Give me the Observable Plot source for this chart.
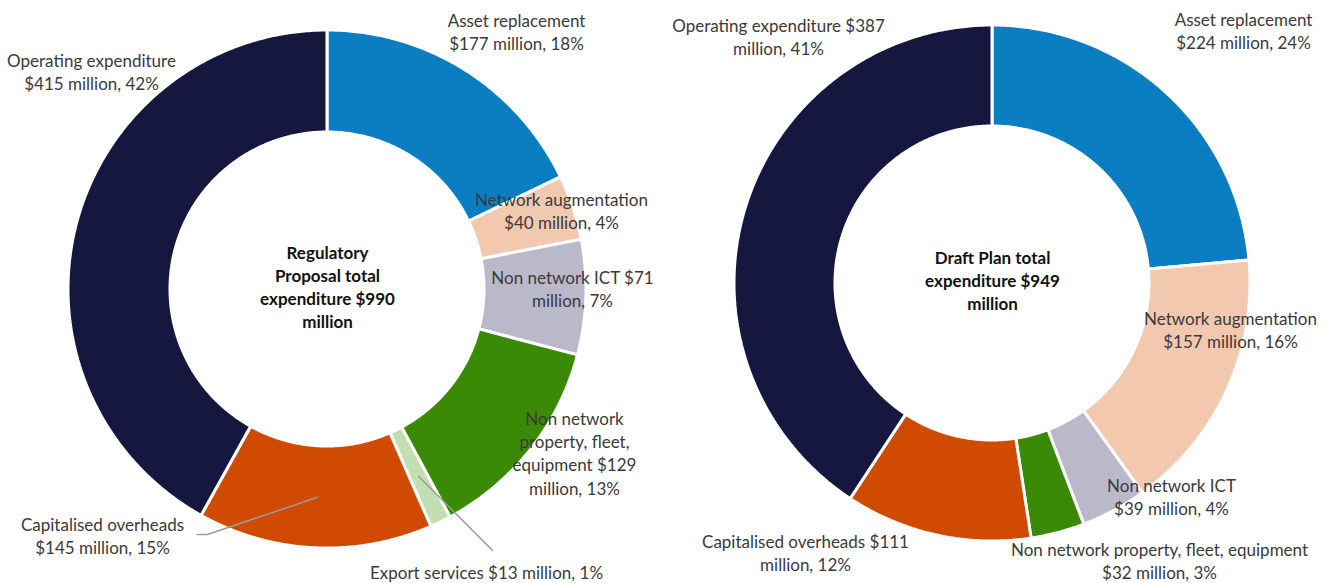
<!DOCTYPE html>
<html>
<head>
<meta charset="utf-8">
<script src="https://cdn.jsdelivr.net/npm/d3@7"></script>
<script src="https://cdn.jsdelivr.net/npm/@observablehq/plot@0.6"></script>
<style>
  html, body { margin: 0; padding: 0; background: #fff; }
  #chart svg { display: block; }
</style>
</head>
<body>
<div id="chart"></div>
<script>
// ---------- DATA ----------
const categories = [
  "Asset replacement",
  "Network augmentation",
  "Non network ICT",
  "Non network property, fleet, equipment",
  "Export services",
  "Capitalised overheads",
  "Operating expenditure"
];
const proposalValues = [177, 40, 71, 129, 13, 145, 415];   // total $990m
const draftValues    = [224, 157, 39, 32, 0, 111, 387];    // total $949m

const proposalLabels = [
  "Asset replacement\n$177 million, 18%",
  "Network augmentation\n$40 million, 4%",
  "Non network ICT $71\nmillion, 7%",
  "Non network\nproperty, fleet,\nequipment $129\nmillion, 13%",
  "Export services $13 million, 1%",
  "Capitalised overheads\n$145 million, 15%",
  "Operating expenditure\n$415 million, 42%"
];
const draftLabels = [
  "Asset replacement\n$224 million, 24%",
  "Network augmentation\n$157 million, 16%",
  "Non network ICT\n$39 million, 4%",
  "Non network property, fleet, equipment\n$32 million, 3%",
  "",
  "Capitalised overheads $111\nmillion, 12%",
  "Operating expenditure $387\nmillion, 41%"
];
const proposalTitle = "Regulatory\nProposal total\nexpenditure $990\nmillion";
const draftTitle = "Draft Plan total\nexpenditure $949\nmillion";

// ---------- STYLE / LAYOUT ----------
const colors = ["#0B7DC1", "#F2C8AE", "#B9B9C9", "#3B8A06", "#C4DEB3", "#D04A02", "#15173F"];
const W = 1332, H = 583;
const donuts = [
  {key: "proposal", values: proposalValues, labels: proposalLabels, title: proposalTitle,
   cx: 327, cy: 289, R: 259, r: 157, titleY: 285.5,
   labelPos: [[516, 30.5], [561, 210], [572, 288], [574, 452],
              [486, 571], [102, 535], [91, 71]]},
  {key: "draft", values: draftValues, labels: draftLabels, title: draftTitle,
   cx: 992, cy: 283, R: 258, r: 157, titleY: 279,
   labelPos: [[1243, 29.5], [1230, 328.5], [1171, 495.5], [1159, 559.5],
              [0, 0], [805, 551.5], [778, 36]]}
];
// leader-line elbows (label ends) for the proposal donut
const leaders = [
  {donut: 0, slice: 5, via: [[207, 534], [197, 534]]},
  {donut: 0, slice: 4, via: [[492, 550]]}
];

// ---------- GEOMETRY FROM DATA ----------
const arcPts = [];
const labelRows = [];
const titleRows = [];
const sliceAngles = [];
donuts.forEach((d, di) => {
  const total = d3.sum(d.values);
  let cum = 0;
  sliceAngles[di] = [];
  d.values.forEach((v, i) => {
    const a0 = cum / total * 2 * Math.PI;
    cum += v;
    const a1 = cum / total * 2 * Math.PI;
    sliceAngles[di][i] = [a0, a1];
    if (v <= 0) return;
    const n = Math.max(4, Math.ceil((a1 - a0) / (Math.PI / 360)));
    for (let k = 0; k <= n; k++) {
      const a = a0 + (a1 - a0) * k / n;
      arcPts.push({
        id: d.key + "-" + i, category: categories[i],
        x1: d.cx + d.r * Math.sin(a), y1: d.cy - d.r * Math.cos(a),
        x2: d.cx + d.R * Math.sin(a), y2: d.cy - d.R * Math.cos(a)
      });
    }
    if (d.labels[i]) {
      const [lx, ly] = d.labelPos[i];
      labelRows.push({x: lx, y: ly, text: d.labels[i]});
    }
  });
  titleRows.push({x: d.cx, y: d.titleY, text: d.title});
});

const leaderPts = [];
leaders.forEach((l, li) => {
  const d = donuts[l.donut];
  const [a0, a1] = sliceAngles[l.donut][l.slice];
  const am = (a0 + a1) / 2, rm = (d.r + d.R) / 2;
  leaderPts.push({g: li, x: d.cx + rm * Math.sin(am), y: d.cy - rm * Math.cos(am)});
  l.via.forEach(([x, y]) => leaderPts.push({g: li, x, y}));
});

const font = "Lato, 'Open Sans', sans-serif";
const chart = Plot.plot({
  width: W, height: H,
  marginTop: 0, marginRight: 0, marginBottom: 0, marginLeft: 0,
  x: {domain: [0, W], range: [0, W], axis: null},
  y: {domain: [0, H], range: [0, H], axis: null},
  color: {domain: categories, range: colors},
  style: {fontFamily: font, background: "#fff"},
  marks: [
    Plot.area(arcPts, {x1: "x1", y1: "y1", x2: "x2", y2: "y2", z: "id", fill: "category",
                       stroke: "white", strokeWidth: 3, strokeLinejoin: "miter"}),
    Plot.line(leaderPts, {x: "x", y: "y", z: "g", stroke: "#9A9A9A", strokeWidth: 1.5}),
    Plot.text(labelRows, {x: "x", y: "y", text: "text",
      textAnchor: "middle", fontSize: 17, lineHeight: 1.36, fill: "#3a3a3a"}),
    Plot.text(titleRows, {x: "x", y: "y", text: "text", textAnchor: "middle",
      fontSize: 17, fontWeight: "bold", lineHeight: 1.35, fill: "#111"})
  ]
});
document.getElementById("chart").appendChild(chart);
</script>
</body>
</html>
